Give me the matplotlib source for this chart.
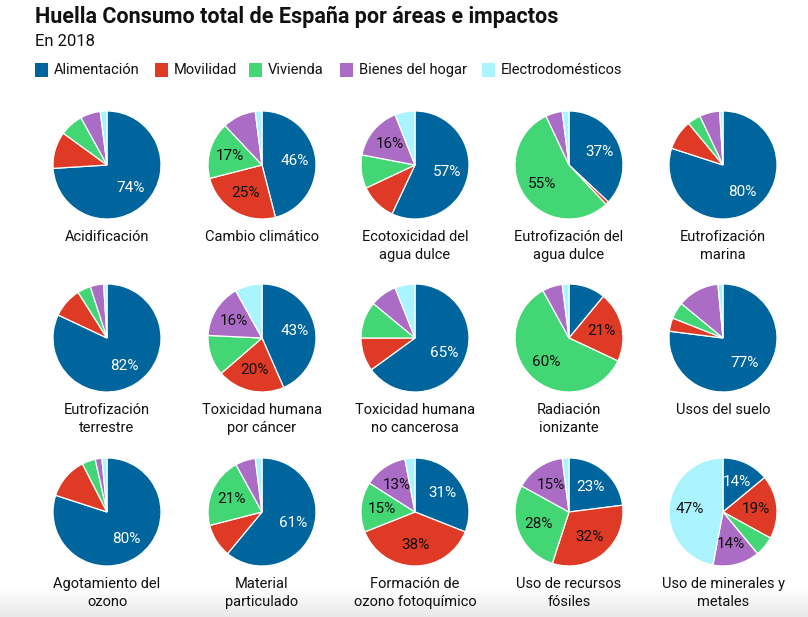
import numpy as np
import matplotlib
matplotlib.use("Agg")
import matplotlib.pyplot as plt

categorias = ["Alimentación", "Movilidad", "Vivienda", "Bienes del hogar", "Electrodomésticos"]
colores = ["#00659c", "#de3a26", "#43d675", "#aa6cc4", "#aaf4ff"]

impactos = ["Acidificación", "Cambio climático", "Ecotoxicidad del\nagua dulce",
            "Eutrofización del\nagua dulce", "Eutrofización\nmarina",
            "Eutrofización\nterrestre", "Toxicidad humana\npor cáncer",
            "Toxicidad humana\nno cancerosa", "Radiación\nionizante", "Usos del suelo",
            "Agotamiento del\nozono", "Material\nparticulado", "Formación de\nozono fotoquímico",
            "Uso de recursos\nfósiles", "Uso de minerales y\nmetales"]

alimentacion = [74, 46, 57, 37, 80, 82, 43, 65, 11, 77, 80, 61, 31, 23, 14]
movilidad = [11, 25, 11, 1, 9, 9, 20, 10, 21, 4, 12.5, 10, 38, 32, 19]
vivienda = [7, 17, 10, 55, 4, 4, 12, 11, 60, 5, 4, 21, 15, 28, 6]
bienes = [6, 10, 16, 5, 6, 4, 16, 8, 6, 12.5, 2, 6, 13, 15, 14]
electro = [2, 2, 6, 2, 1, 1, 8, 6, 2, 1.5, 1.5, 2, 3, 2, 47]

W, H = 808, 617
fig = plt.figure(figsize=(W / 100, H / 100), dpi=100)
FONT = "Roboto"

# bottom fade
gax = fig.add_axes([0, 0, 1, 30 / H])
grad = np.linspace(0, 1, 50).reshape(-1, 1)
gax.imshow(grad, aspect="auto", cmap=matplotlib.colors.LinearSegmentedColormap.from_list("g", ["#e9e9e9", "#ffffff"]),
           extent=[0, 1, 0, 1], origin="lower")
gax.axis("off")

fig.text(35 / W, 1 - 17 / H, "Huella Consumo total de España por áreas e impactos",
         fontsize=15.5, fontweight="bold", family=FONT, va="center", ha="left", color="#111111")
fig.text(35 / W, 1 - 41 / H, "En 2018", fontsize=12, family=FONT, va="center", ha="left", color="#111111")

leg_x = [35, 155, 249, 340, 482]
for x, c, lab in zip(leg_x, colores, categorias):
    fig.patches.append(matplotlib.patches.Rectangle((x / W, 1 - 77 / H), 13 / W, 14 / H,
                                                    transform=fig.transFigure, facecolor=c, edgecolor="none"))
    fig.text((x + 19) / W, 1 - 70 / H, lab, fontsize=10.5, family=FONT, va="center", ha="left", color="#111111")

cx_list = [107, 262, 415, 569, 723]
cy_list = [165, 338, 512]
r = 54

for i, name in enumerate(impactos):
    row, col = divmod(i, 5)
    cx, cy = cx_list[col], cy_list[row]
    ax = fig.add_axes([(cx - r) / W, 1 - (cy + r) / H, 2 * r / W, 2 * r / H])
    vals = [alimentacion[i], movilidad[i], vivienda[i], bienes[i], electro[i]]
    wedges, _ = ax.pie(vals, colors=colores, startangle=90, counterclock=False,
                       wedgeprops=dict(edgecolor="white", linewidth=0.9))
    ax.set_xlim(-1.0, 1.0)
    ax.set_ylim(-1.0, 1.0)
    ax.set_aspect("equal")
    for j, (w, v) in enumerate(zip(wedges, vals)):
        if v >= 13:
            ang = np.deg2rad((w.theta1 + w.theta2) / 2)
            ax.text(0.61 * np.cos(ang), 0.61 * np.sin(ang), f"{v:.0f}%",
                    ha="center", va="center", fontsize=11, family=FONT,
                    color="white" if j == 0 else "#111111")
    fig.text(cx / W, 1 - (cy + 65) / H, name, ha="center", va="top", fontsize=10.5,
             family=FONT, color="#111111", linespacing=1.4)

fig.savefig("out.png", dpi=100, facecolor="white")
